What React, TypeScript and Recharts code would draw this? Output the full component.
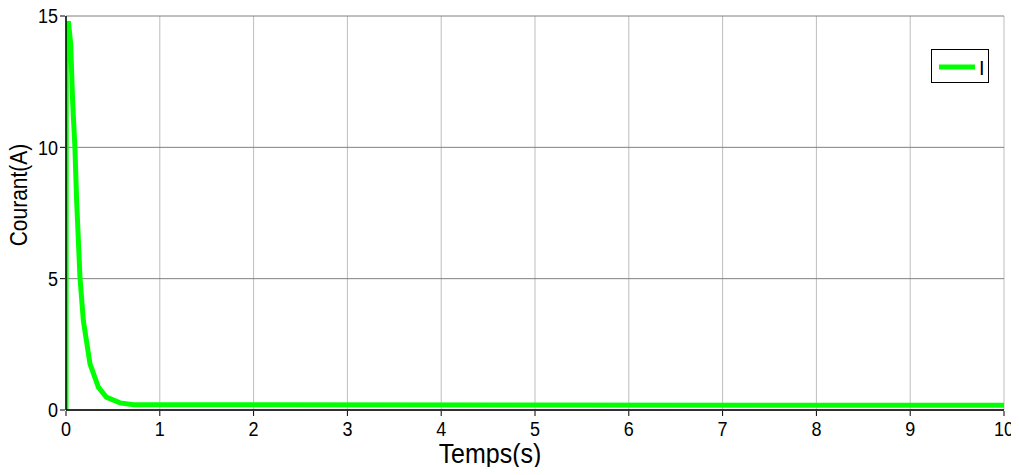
import React from "react";
import { LineChart, Line, XAxis, YAxis, CartesianGrid, Label } from "recharts";

const times = [0, 0.003, 0.025, 0.05, 0.07, 0.095, 0.113, 0.149, 0.185, 0.256, 0.345, 0.43, 0.576, 0.72, 10];
const currents = [0, 14.3, 14.8, 13.95, 11.8, 10.0, 8.0, 5.05, 3.4, 1.76, 0.87, 0.49, 0.27, 0.2, 0.18];
const xTicks = [0, 1, 2, 3, 4, 5, 6, 7, 8, 9, 10];
const yTicks = [0, 5, 10, 15];
const seriesName = "I";
const xLabel = "Temps(s)";
const yLabel = "Courant(A)";

const data = times.map((t, k) => ({ t, I: currents[k] }));

const FONT = "'Liberation Sans', Arial, sans-serif";

const XTick = (props: any) => {
  const { x, y, payload } = props;
  return (
    <g>
      <line x1={x} y1={y - 2} x2={x} y2={y - 7} stroke="#000" strokeWidth={1} />
      <text
        transform={`translate(${x},${y}) scale(1,1.15)`}
        x={0}
        y={0}
        dy={16}
        textAnchor="middle"
        fontFamily={FONT}
        fontSize={18}
        fill="#000"
      >
        {payload.value}
      </text>
    </g>
  );
};

const YTick = (props: any) => {
  const { x, y, payload } = props;
  return (
    <g>
      <line x1={x + 2} y1={y} x2={x + 7} y2={y} stroke="#000" strokeWidth={1} />
      <text
        transform={`translate(${x},${y}) scale(1,1.15)`}
        x={0}
        y={0}
        dy="0.36em"
        textAnchor="end"
        fontFamily={FONT}
        fontSize={18}
        fill="#000"
      >
        {payload.value}
      </text>
    </g>
  );
};

const XLabel = (props: any) => {
  const vb = props.viewBox || {};
  const cx = vb.x + 424;
  const cy = vb.y + 53;
  return (
    <text
      transform={`translate(${cx},${cy}) scale(1,1.1)`}
      x={0}
      y={0}
      textAnchor="middle"
      fontFamily={FONT}
      fontSize={25}
      fill="#000"
    >
      {xLabel}
    </text>
  );
};

const YLabel = (props: any) => {
  const vb = props.viewBox || {};
  const cx = vb.x + 19;
  const cy = 187;
  return (
    <text
      transform={`translate(${cx},${cy}) rotate(-90) scale(1,1.1)`}
      x={0}
      y={0}
      textAnchor="middle"
      fontFamily={FONT}
      fontSize={21}
      fill="#000"
    >
      {yLabel}
    </text>
  );
};

const LegendBox = () => (
  <div
    style={{
      position: "absolute",
      left: 923,
      top: 41,
      width: 56,
      height: 32,
      border: "1.5px solid #000",
      background: "#fff",
      boxSizing: "content-box",
    }}
  >
    <svg width={56} height={32} style={{ display: "block" }}>
      <line x1={7} y1={17} x2={43} y2={17} stroke="#00ff00" strokeWidth={5} />
      <text x={47} y={25} fontFamily={FONT} fontSize={20} fill="#000">
        {seriesName}
      </text>
    </svg>
  </div>
);

export default function App() {
  return (
    <div style={{ position: "relative", width: 1011, height: 459, background: "#fff" }}>
      <style>{"html,body{overflow:hidden;}"}</style>
      <LineChart
        width={1011}
        height={467}
        data={data}
        margin={{ top: 8, right: 15, left: 0, bottom: 0 }}
        style={{ overflow: "visible" }}
      >
        <CartesianGrid xAxisId="main" yAxisId="main" horizontal={false} vertical={true} stroke="#bdbdbd" strokeWidth={1} />
        <CartesianGrid xAxisId="main" yAxisId="main" horizontal={true} vertical={false} stroke="#808080" strokeWidth={1} />
        <XAxis
          xAxisId="main"
          dataKey="t"
          type="number"
          domain={[0, 10]}
          ticks={xTicks}
          interval={0}
          height={65}
          tick={<XTick />}
          tickLine={false}
          axisLine={{ stroke: "#000", strokeWidth: 1.5 }}
          allowDataOverflow
        >
          <Label content={<XLabel />} />
        </XAxis>
        <XAxis
          xAxisId="top"
          dataKey="t"
          type="number"
          orientation="top"
          domain={[0, 10]}
          ticks={xTicks}
          interval={0}
          height={0}
          tick={false}
          tickLine={false}
          axisLine={{ stroke: "#000", strokeWidth: 1.5 }}
        />
        <YAxis
          yAxisId="main"
          type="number"
          domain={[0, 15]}
          ticks={yTicks}
          interval={0}
          width={58}
          tick={<YTick />}
          tickLine={false}
          axisLine={{ stroke: "#000", strokeWidth: 1.5 }}
          allowDataOverflow
        >
          <Label content={<YLabel />} />
        </YAxis>
        <YAxis
          yAxisId="right"
          type="number"
          orientation="right"
          domain={[0, 15]}
          ticks={yTicks}
          interval={0}
          width={0}
          tick={false}
          tickLine={false}
          axisLine={{ stroke: "#000", strokeWidth: 1.5 }}
        />
        <Line
          xAxisId="main"
          yAxisId="main"
          type="linear"
          dataKey="I"
          name={seriesName}
          stroke="#00ff00"
          strokeWidth={5}
          dot={false}
          activeDot={false}
          isAnimationActive={false}
        />
      </LineChart>
      <LegendBox />
    </div>
  );
}
